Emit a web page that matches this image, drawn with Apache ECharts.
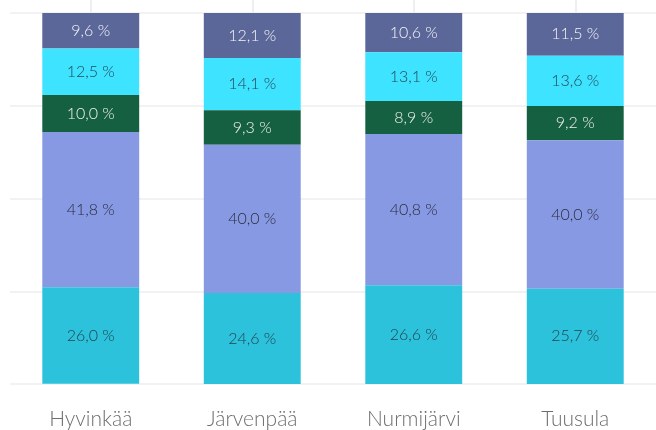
<!DOCTYPE html>
<html>
<head>
<meta charset="utf-8">
<script src="https://cdn.jsdelivr.net/npm/echarts@6/dist/echarts.min.js"></script>
<style>
  html, body { margin: 0; padding: 0; background: #fff; }
  #chart { width: 656px; height: 430px; }
</style>
</head>
<body>
<div id="chart"></div>
<script>
var categories = ['Hyvinkää', 'Järvenpää', 'Nurmijärvi', 'Tuusula'];
// stacked from the top down
var topShare = [9.6, 12.1, 10.6, 11.5];
var cyanShare = [12.5, 14.1, 13.1, 13.6];
var greenShare = [10.0, 9.3, 8.9, 9.2];
var lavenderShare = [41.8, 40.0, 40.8, 40.0];
var bottomShare = [26.0, 24.6, 26.6, 25.7];

var chart = echarts.init(document.getElementById('chart'));

function fmt(p) {
    return p.value.toFixed(1).replace('.', ',') + ' %';
}

function makeSeries(name, data, color, textColor) {
    return {
        name: name,
        type: 'bar',
        stack: 'total',
        barWidth: '60%',
        data: data,
        itemStyle: { color: color },
        label: {
            show: true,
            position: 'inside',
            formatter: fmt,
            fontFamily: 'Lato',
            fontWeight: 300,
            fontSize: 16,
            color: textColor
        }
    };
}

var option = {
    animation: false,
    grid: { left: 10, right: 0, top: 13, bottom: 46 },
    xAxis: [{
        type: 'category',
        data: categories,
        position: 'bottom',
        axisLine: { show: false },
        axisTick: { show: true, alignWithLabel: true, length: 19, lineStyle: { color: '#efefef', width: 2 } },
        axisLabel: { fontFamily: 'Lato', fontWeight: 300, fontSize: 21, color: '#6e6e6e', margin: 25 }
    }, {
        type: 'category',
        data: categories,
        position: 'top',
        axisLine: { show: false },
        axisTick: { show: true, alignWithLabel: true, length: 19, lineStyle: { color: '#efefef', width: 2 } },
        axisLabel: { show: false }
    }],
    yAxis: {
        type: 'value',
        inverse: true,
        min: 0,
        max: 100,
        interval: 25,
        axisLabel: { show: false },
        axisLine: { show: false },
        axisTick: { show: false },
        splitLine: { lineStyle: { color: '#f2f2f2', width: 2 } }
    },
    series: [
        makeSeries('a', topShare, '#5b6699', '#f4f4f4'),
        makeSeries('b', cyanShare, '#3de3ff', 'rgba(30,40,50,0.85)'),
        makeSeries('c', greenShare, '#156040', '#f0f0f0'),
        makeSeries('d', lavenderShare, '#8799e3', 'rgba(30,30,40,0.9)'),
        makeSeries('e', bottomShare, '#2dc2db', 'rgba(30,40,50,0.85)')
    ]
};

chart.setOption(option);
</script>
</body>
</html>
